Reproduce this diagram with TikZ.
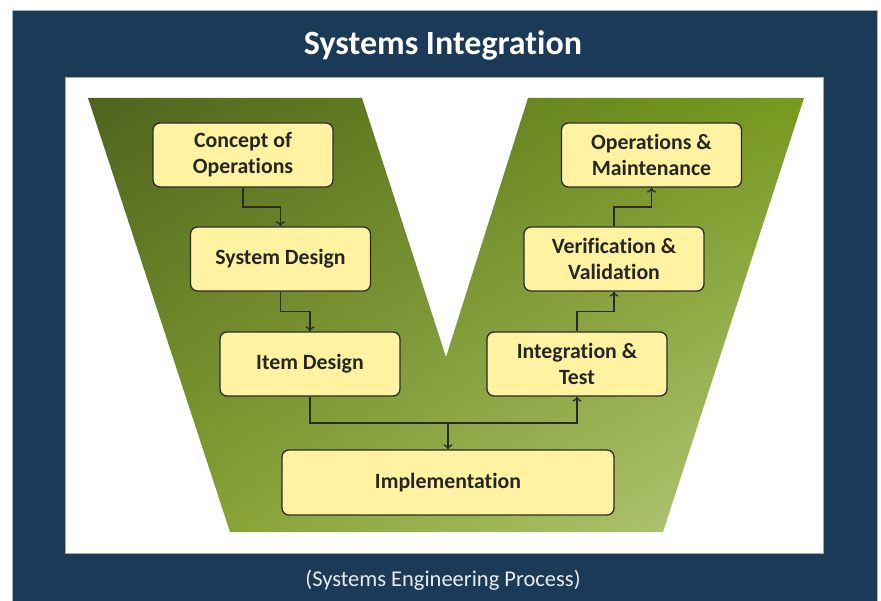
\documentclass[tikz,border=0pt]{standalone}
\usepackage{fontspec}
\setmainfont{Carlito}[Ligatures=NoCommon]
\usepackage{xcolor}
\usetikzlibrary{positioning}
\usetikzlibrary{calc,arrows.meta,shadings}

\definecolor{frameblue}{HTML}{1B3A57}
\definecolor{boxfill}{HTML}{FFF2A0}
\definecolor{boxline}{HTML}{2B2B2B}
\definecolor{vdark}{HTML}{4E6420}
\definecolor{vtopright}{HTML}{789A1E}
\definecolor{vlowleft}{HTML}{7E9A28}
\definecolor{vlight}{HTML}{B8CB7C}

\begin{document}
\begin{tikzpicture}[x=1pt, y=-1pt,
      type-step/.style={rectangle, rounded corners=7pt, draw=boxline, fill=boxfill, line width=1.3pt,
        minimum width=180pt, minimum height=64pt, align=center, text=black!85,
        font=\bfseries\fontsize{21.8}{26}\selectfont},
      flow/.style={draw=boxline, line width=1.3pt, -{To[length=5pt,width=9pt]}},
      elbow/.style={to path={|- ($(\tikztostart)!.5!(\tikztotarget)$) -| (\tikztotarget)}}
    ]
      % frame
      \useasboundingbox (0,0) rectangle (881,601);
      \fill[white] (0,0) rectangle (881,601);
      \fill[frameblue, draw=gray!60, line width=0.6pt] (12,10) rectangle (877,603);
      \fill[white, draw=gray!70, line width=0.8pt] (65,77) rectangle (823,553);
      \node[font=\bfseries\fontsize{34}{40}\selectfont, text=white] (title) at (443,45) {Systems Integration};
      \node[font=\fontsize{22.5}{26}\selectfont, text=white!90!frameblue] (caption) at (443,580) {(Systems Engineering Process)};

      % the V
      \shade[shading=bilinear interpolation, upper left=vdark, upper right=vtopright, lower left=vlowleft, lower right=vlight]
        (88,98) -- (362,98) -- (446,357) -- (528,98) -- (804,98) -- (663,532) -- (230,532) -- cycle;

      % left arm
      \node[type-step] (concept) at (243,155) {Concept of\\Operations};
      \node[type-step] (sysdesign) at (280.5,259) {System Design};
      \node[type-step] (itemdesign) at (310,364) {Item Design};
      % bottom
      \node[type-step, minimum width=332pt, minimum height=65pt] (impl) at (448,482.5) {Implementation};
      % right arm
      \node[type-step] (integ) at (577,364) {Integration \&\\Test};
      \node[type-step] (verif) at (614,259) {Verification \&\\Validation};
      \node[type-step] (opsmaint) at (651.5,155) {Operations \&\\Maintenance};

      \coordinate (junction) at (448,423);
      \draw[flow] (concept.south) to[elbow] (sysdesign.north);
      \draw[flow] (sysdesign.south) to[elbow] (itemdesign.north);
      \draw[flow] (itemdesign.south) |- (junction) -| (integ.south);
      \draw[flow] (junction) -- (impl.north);
      \draw[flow] (integ.north) to[elbow] (verif.south);
      \draw[flow] (verif.north) to[elbow] (opsmaint.south);
    \end{tikzpicture}
\end{document}
